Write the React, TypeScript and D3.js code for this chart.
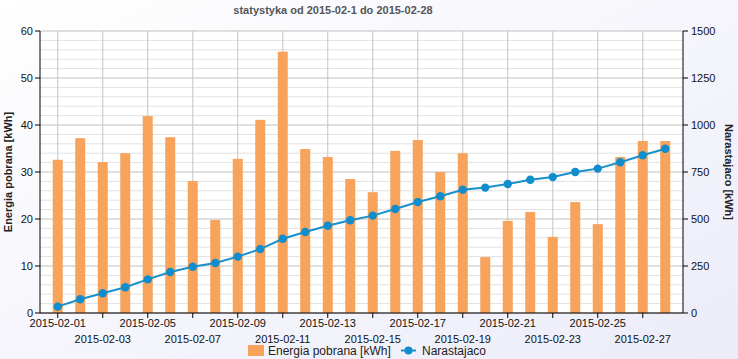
import React from "react";
import * as d3 from "d3";

const dates = [
  "2015-02-01","2015-02-02","2015-02-03","2015-02-04","2015-02-05","2015-02-06","2015-02-07",
  "2015-02-08","2015-02-09","2015-02-10","2015-02-11","2015-02-12","2015-02-13","2015-02-14",
  "2015-02-15","2015-02-16","2015-02-17","2015-02-18","2015-02-19","2015-02-20","2015-02-21",
  "2015-02-22","2015-02-23","2015-02-24","2015-02-25","2015-02-26","2015-02-27","2015-02-28",
];
const energy = [
  32.6, 37.2, 32.1, 34.0, 41.9, 37.4, 28.1, 19.8, 32.8, 41.1, 55.6, 34.9, 33.2, 28.5,
  25.7, 34.5, 36.8, 30.0, 34.0, 11.9, 19.6, 21.5, 16.2, 23.6, 18.9, 33.2, 36.6, 36.6,
];
const cumulative = [
  34, 73, 105, 137, 179, 218, 246, 266, 300, 340, 395, 431, 464, 493,
  518, 553, 590, 621, 656, 667, 686, 709, 723, 750, 768, 802, 839, 874,
];
const leftTicks = [0, 10, 20, 30, 40, 50, 60];
const rightTicks = [0, 250, 500, 750, 1000, 1250, 1500];

const W = 738, H = 359;
const L = 40, R = 683, T = 31, B = 313;
const FONT = "'Liberation Sans', Arial, sans-serif";

export default function App() {
  const x = d3.scaleBand<string>().domain(dates).range([L + 6.5, R - 6.5]);
  const cx = (d: string) => (x(d) as number) + x.bandwidth() / 2;
  const yL = d3.scaleLinear().domain([0, 60]).range([B, T]);
  const yR = d3.scaleLinear().domain([0, 1500]).range([B, T]);
  const minor = d3.range(0, 61, 2).filter((v) => v % 10 !== 0);
  const tickDates = dates.filter((_, i) => i % 2 === 0);
  const line = d3
    .line<number>()
    .x((_, i) => cx(dates[i]))
    .y((v) => yR(v));
  const barW = 10;

  return (
    <svg width={W} height={H} style={{ position: "absolute", left: 0, top: 0 }} fontFamily={FONT}>
      <defs>
        <linearGradient id="bg" x1="0" y1="0" x2="1" y2="1">
          <stop offset="0" stopColor="#ffffff" />
          <stop offset="1" stopColor="#ececf9" />
        </linearGradient>
      </defs>
      <rect x={0} y={0} width={W} height={H} fill="url(#bg)" />
      <rect x={L} y={T} width={R - L} height={B - T} fill="#ffffff" />
      {/* minor grid */}
      {minor.map((v) => (
        <line key={"mn" + v} x1={L} x2={R} y1={yL(v)} y2={yL(v)} stroke="#e2e2e2" strokeWidth={1} />
      ))}
      {/* major grid */}
      {leftTicks.map((v) => (
        <line key={"mj" + v} x1={L} x2={R} y1={yL(v)} y2={yL(v)} stroke="#c0c0c0" strokeWidth={1} />
      ))}
      {/* vertical grid */}
      {tickDates.map((d) => (
        <line key={"vg" + d} x1={cx(d)} x2={cx(d)} y1={T} y2={B} stroke="#c4c4c4" strokeWidth={1} />
      ))}
      {/* bars */}
      {energy.map((v, i) => (
        <rect
          key={"b" + i}
          x={cx(dates[i]) - barW / 2}
          y={yL(v)}
          width={barW}
          height={B - yL(v)}
          fill="#f7a35c"
        />
      ))}
      {/* line */}
      <path d={line(cumulative) as string} fill="none" stroke="#1790cc" strokeWidth={2} />
      {cumulative.map((v, i) => (
        <circle key={"c" + i} cx={cx(dates[i])} cy={yR(v)} r={4.2} fill="#0f8dcc" />
      ))}
      {/* axes */}
      <line x1={L} x2={L} y1={T} y2={B} stroke="#000" strokeWidth={1} />
      <line x1={R} x2={R} y1={T} y2={B} stroke="#000" strokeWidth={1} />
      <line x1={L} x2={R} y1={B} y2={B} stroke="#000" strokeWidth={1} />
      {leftTicks.map((v) => (
        <g key={"lt" + v}>
          <line x1={L - 5} x2={L} y1={yL(v)} y2={yL(v)} stroke="#000" />
          <text x={L - 7} y={yL(v) + 4} textAnchor="end" fontSize={11} fill="#111">
            {v}
          </text>
        </g>
      ))}
      {rightTicks.map((v) => (
        <g key={"rt" + v}>
          <line x1={R} x2={R + 5} y1={yR(v)} y2={yR(v)} stroke="#000" />
          <text x={R + 8} y={yR(v) + 4} textAnchor="start" fontSize={11} fill="#111">
            {v}
          </text>
        </g>
      ))}
      {tickDates.map((d, i) => (
        <g key={"xt" + d}>
          <line x1={cx(d)} x2={cx(d)} y1={B} y2={B + 5} stroke="#000" />
          <text x={cx(d)} y={i % 2 === 0 ? 327 : 343} textAnchor="middle" fontSize={11} fill="#111">
            {d}
          </text>
        </g>
      ))}
      {/* axis titles */}
      <text
        transform={`translate(12, ${(T + B) / 2}) rotate(-90)`}
        textAnchor="middle"
        fontSize={11}
        fontWeight="bold"
        fill="#222"
      >
        Energia pobrana [kWh]
      </text>
      <text
        transform={`translate(725, ${(T + B) / 2}) rotate(90)`}
        textAnchor="middle"
        fontSize={11}
        fontWeight="bold"
        fill="#222"
      >
        Narastajaco [kWh]
      </text>
      {/* subtitle */}
      <text x={333} y={14} textAnchor="middle" fontSize={11} fontWeight="bold" fill="#555">
        statystyka od 2015-02-1 do 2015-02-28
      </text>
      {/* legend */}
      <rect x={248} y={345} width={16} height={11} fill="#f7a35c" />
      <text x={268} y={355} fontSize={12} fill="#222">
        Energia pobrana [kWh]
      </text>
      <line x1={401} x2={416} y1={350.5} y2={350.5} stroke="#1790cc" strokeWidth={2} />
      <circle cx={408.5} cy={350.5} r={4} fill="#0f8dcc" />
      <text x={422} y={355} fontSize={12} fill="#222">
        Narastajaco
      </text>
    </svg>
  );
}
